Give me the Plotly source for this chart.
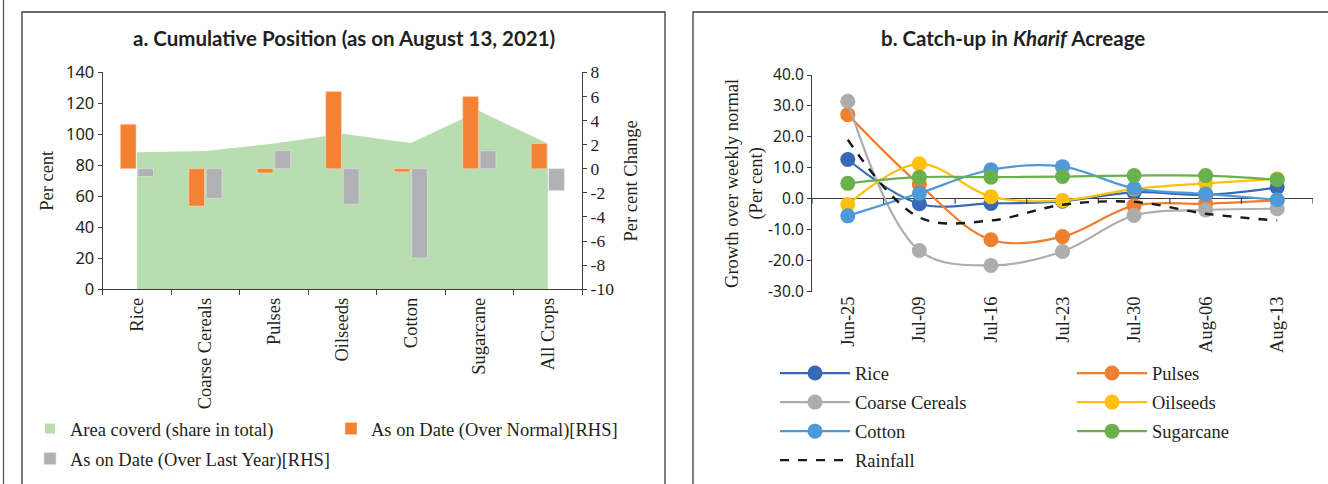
import plotly.graph_objects as go

# ---- Panel a: cumulative position ----
crops = ["Rice", "Coarse Cereals", "Pulses", "Oilseeds", "Cotton", "Sugarcane", "All Crops"]
area_share = [88.4, 89.2, 94.0, 100.4, 94.4, 115.0, 94.0]
over_normal = [3.7, -3.1, -0.35, 6.4, -0.25, 6.0, 2.1]
over_last_year = [-0.65, -2.45, 1.5, -2.95, -7.4, 1.5, -1.8]

# ---- Panel b: weekly growth over normal ----
weeks = ["Jun-25", "Jul-09", "Jul-16", "Jul-23", "Jul-30", "Aug-06", "Aug-13"]
rice = [12.7, -1.6, -1.5, -0.8, 2.1, 1.3, 3.7]
pulses = [27.2, 4.6, -13.2, -12.2, -2.2, -1.6, -0.5]
coarse_cereals = [31.5, -16.7, -21.5, -17.0, -5.4, -3.6, -3.2]
oilseeds = [-1.8, 11.3, 0.7, -0.5, 3.2, 5.0, 6.5]
cotton = [-5.5, 1.8, 9.4, 10.4, 3.4, 1.6, -0.3]
sugarcane = [5.0, 7.0, 7.0, 7.2, 7.5, 7.5, 6.2]
rainfall = [19.1, -6.0, -7.0, -1.9, -1.0, -4.8, -7.0]

# axis tick values
left_ticks = list(range(0, 141, 20))
change_ticks = list(range(-10, 9, 2))
growth_ticks = list(range(-30, 41, 10))

W, H = 1328, 484
SERIF = "Liberation Serif"
SANS = "Noto Sans"
INK = "#231f20"
AXIS = "#3f3f3f"


def px_x(p):
    return p / W


def px_y(p):
    return 1 - p / H


fig = go.Figure()

# green area on the left axis
fig.add_trace(go.Scatter(
    x=crops, y=area_share, mode="lines", fill="tozeroy",
    line=dict(width=0, color="#b8ddb1"), fillcolor="#b8ddb1",
    xaxis="x", yaxis="y", showlegend=False, hoverinfo="skip"))
# legend swatch for the area
fig.add_trace(go.Scatter(
    x=[None], y=[None], mode="markers", name="Area coverd (share in total)",
    marker=dict(symbol="square", size=10, color="#b8ddb1"),
    xaxis="x", yaxis="y", legend="legend", legendgroup="area"))

fig.add_trace(go.Bar(
    x=crops, y=over_normal, name="As on Date (Over Normal)[RHS]",
    marker=dict(color="#f58232", line=dict(width=0.6, color="#fbd9c0")),
    xaxis="x", yaxis="y2", legend="legend2", legendgroup="normal"))
fig.add_trace(go.Bar(
    x=crops, y=over_last_year, name="As on Date (Over Last Year)[RHS]",
    marker=dict(color="#b1b1b5", line=dict(width=0.6, color="#e2e2e4")),
    xaxis="x", yaxis="y2", legend="legend", legendgroup="lastyear"))

# right panel lines
line_series = [
    ("Rice", rice, "#3769b4", "legend3"),
    ("Pulses", pulses, "#f07f32", "legend4"),
    ("Coarse Cereals", coarse_cereals, "#adadad", "legend3"),
    ("Oilseeds", oilseeds, "#ffc010", "legend4"),
    ("Cotton", cotton, "#4f9ad6", "legend3"),
    ("Sugarcane", sugarcane, "#6ab04c", "legend4"),
]
for name, vals, col, lg in line_series:
    fig.add_trace(go.Scatter(
        x=weeks, y=vals, name=name, mode="lines+markers",
        line=dict(color=col, width=2.2, shape="spline", smoothing=1.0),
        marker=dict(color=col, size=15),
        xaxis="x2", yaxis="y3", legend=lg, legendgroup=name))
fig.add_trace(go.Scatter(
    x=weeks, y=rainfall, name="Rainfall", mode="lines",
    line=dict(color="#1a1a1a", width=2.4, dash="dash", shape="spline", smoothing=1.0),
    xaxis="x2", yaxis="y3", legend="legend3", legendgroup="Rainfall"))

# plot-area geometry (pixels)
L_X0, L_X1, L_Y0, L_Y1 = 102.7, 582.0, 72.3, 289.3
R_X0, R_X1, R_Y0, R_Y1 = 812.0, 1313.0, 75.0, 291.7
r_lo, r_hi = growth_ticks[0], growth_ticks[-1]

tick_font_serif = dict(family=SERIF, size=18.5, color=INK)
tick_font_sans = dict(family=SANS, size=16.5, color=INK)
title_font = dict(family=SERIF, size=18.5, color=INK)
legend_font = dict(family=SERIF, size=18.5, color=INK)

fig.update_layout(
    template="none",
    width=W, height=H,
    margin=dict(l=0, r=0, t=0, b=0, autoexpand=False),
    paper_bgcolor="white", plot_bgcolor="rgba(0,0,0,0)",
    barmode="group", bargap=0.49, bargroupgap=0.1,
    xaxis=dict(
        domain=[px_x(L_X0), px_x(L_X1)], anchor="y", automargin=False,
        type="category", categoryorder="array", categoryarray=crops,
        range=[-0.5, 6.5], tickson="boundaries", ticks="outside", ticklen=5,
        tickcolor=AXIS, showline=True, linecolor=AXIS, linewidth=1.2,
        showgrid=False, zeroline=False, tickangle=-90, tickfont=tick_font_serif),
    yaxis=dict(
        domain=[px_y(L_Y1), px_y(L_Y0)], anchor="x", automargin=False,
        range=[left_ticks[0], left_ticks[-1]],
        tickvals=left_ticks, ticktext=[str(v) for v in left_ticks],
        ticks="outside", ticklen=4, tickcolor=AXIS,
        showline=True, linecolor=AXIS, linewidth=1.2, showgrid=False, zeroline=False,
        tickfont=tick_font_sans,
        title=dict(text="Per cent", font=title_font, standoff=7)),
    yaxis2=dict(
        overlaying="y", side="right", anchor="x", automargin=False,
        range=[change_ticks[0], change_ticks[-1]],
        tickvals=change_ticks, ticktext=[str(v) for v in change_ticks],
        ticks="outside", ticklen=4, tickcolor=AXIS,
        showline=True, linecolor=AXIS, linewidth=1.2, showgrid=False, zeroline=False,
        tickfont=dict(family=SERIF, size=17.5, color=INK),
        title=dict(text="Per cent Change", font=title_font, standoff=10)),
    xaxis2=dict(
        domain=[px_x(R_X0), px_x(R_X1)], anchor="y3", automargin=False,
        type="category", categoryorder="array", categoryarray=weeks,
        range=[-0.5, 6.5], ticks="", showline=False, showgrid=False, zeroline=False,
        tickangle=-90, tickfont=tick_font_serif),
    yaxis3=dict(
        domain=[px_y(R_Y1), px_y(R_Y0)], anchor="x2", automargin=False,
        range=[r_lo, r_hi],
        tickvals=growth_ticks, ticktext=[f"{v:.1f}" for v in growth_ticks],
        ticks="outside", ticklen=4, tickcolor=AXIS,
        showline=True, linecolor=AXIS, linewidth=1.2, showgrid=False,
        zeroline=True, zerolinecolor=AXIS, zerolinewidth=1.2,
        tickfont=dict(family=SANS, size=15.5, color=INK),
        title=dict(text="Growth over weekly normal<br>(Per cent)",
                   font=title_font, standoff=0)),
    legend=dict(x=px_x(30), y=px_y(410), xanchor="left", yanchor="top",
                font=legend_font, bgcolor="rgba(0,0,0,0)",
                tracegroupgap=3, itemwidth=30),
    legend2=dict(x=px_x(331), y=px_y(410), xanchor="left", yanchor="top",
                 font=legend_font, bgcolor="rgba(0,0,0,0)", itemwidth=30),
    legend3=dict(x=px_x(775), y=px_y(354.5), xanchor="left", yanchor="top",
                 font=legend_font, bgcolor="rgba(0,0,0,0)",
                 tracegroupgap=2, itemwidth=70),
    legend4=dict(x=px_x(1072), y=px_y(354.5), xanchor="left", yanchor="top",
                 font=legend_font, bgcolor="rgba(0,0,0,0)",
                 tracegroupgap=2, itemwidth=70),
)

# small tick marks on the zero line of panel b, at category boundaries
zero_tick = (r_hi - r_lo) * 5 / (R_Y1 - R_Y0)
for i in range(len(weeks) + 1):
    fig.add_shape(type="line", xref="x2", yref="y3",
                  x0=i - 0.5, x1=i - 0.5, y0=0, y1=-zero_tick,
                  line=dict(color=AXIS, width=1.2))

# panel frames
frame = dict(color="#3a3a3a", width=1.3)
fig.add_shape(type="path", xref="paper", yref="paper",
              path=f"M {px_x(22)} 0 L {px_x(22)} {px_y(12)} L {px_x(665)} {px_y(12)} L {px_x(665)} 0",
              line=frame)
fig.add_shape(type="path", xref="paper", yref="paper",
              path=f"M {px_x(693)} 0 L {px_x(693)} {px_y(12)} L 1.01 {px_y(12)}",
              line=frame)
fig.add_shape(type="line", xref="paper", yref="paper",
              x0=px_x(3.5), x1=px_x(3.5), y0=0, y1=1, line=dict(color="#555", width=1.3))

# panel titles
fig.add_annotation(xref="paper", yref="paper", x=px_x(344), y=px_y(38),
                   xanchor="center", yanchor="middle",
                   text="<b>a. Cumulative Position (as on August 13, 2021)</b>",
                   showarrow=False, font=dict(family="Lato", size=20.5, color=INK))
fig.add_annotation(xref="paper", yref="paper", x=px_x(1013), y=px_y(38),
                   xanchor="center", yanchor="middle",
                   text="<b>b. Catch-up in <i>Kharif</i> Acreage</b>",
                   showarrow=False, font=dict(family="Lato", size=20.5, color=INK))

fig.write_html("out.html")
